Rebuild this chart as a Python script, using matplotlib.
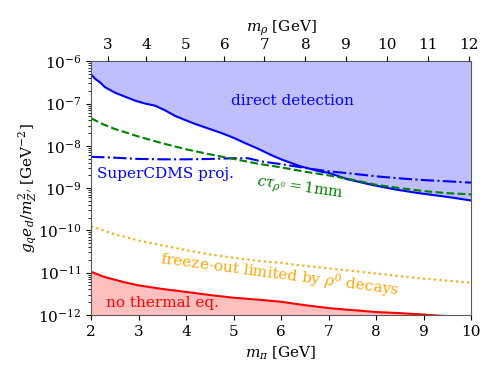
import matplotlib
matplotlib.use("Agg")
import matplotlib.pyplot as plt

plt.rcParams['font.family'] = 'serif'
plt.rcParams['font.serif'] = ['DejaVu Serif']
plt.rcParams['mathtext.fontset'] = 'dejavuserif'
plt.rcParams['font.size'] = 11

# direct detection bound (solid blue)
m_dd = [2.0, 2.08, 2.19, 2.29, 2.5, 2.72, 2.93, 3.14, 3.35, 3.56, 3.77, 4.0, 4.19, 4.5, 4.75, 5.0,
        5.25, 5.5, 5.8, 6.0, 6.4, 6.8, 7.0, 7.4, 7.9, 8.4, 8.9, 9.5, 10.0]
y_dd = [4.9e-7, 3.9e-7, 3.16e-7, 2.45e-7, 1.82e-7, 1.45e-7, 1.17e-7, 1.0e-7, 8.9e-8, 6.9e-8, 5.1e-8,
        4.0e-8, 3.3e-8, 2.5e-8, 2.0e-8, 1.55e-8, 1.15e-8, 8.7e-9, 6.0e-9, 4.8e-9, 3.3e-9, 2.5e-9,
        2.3e-9, 1.62e-9, 1.2e-9, 9.3e-10, 7.6e-10, 6.2e-10, 5.1e-10]

# SuperCDMS projection (dash-dot blue)
m_cdms = [2.0, 2.5, 3.0, 3.5, 4.0, 4.5, 5.0, 5.3, 5.6, 6.0, 6.5, 7.0, 7.5, 8.0, 8.5, 9.0, 9.5, 10.0]
y_cdms = [5.5e-9, 5.25e-9, 4.9e-9, 4.8e-9, 4.8e-9, 4.9e-9, 5.1e-9, 5.1e-9, 4.25e-9, 3.7e-9, 3.0e-9,
          2.5e-9, 2.2e-9, 1.9e-9, 1.7e-9, 1.55e-9, 1.45e-9, 1.35e-9]

# c tau = 1mm (dashed green)
m_ctau = [2.0, 2.25, 2.5, 2.75, 3.0, 3.5, 4.0, 4.5, 5.0, 5.5, 6.0, 6.5, 7.0, 7.5, 8.0, 8.5, 9.0, 9.5, 10.0]
y_ctau = [4.47e-8, 3.24e-8, 2.51e-8, 2.04e-8, 1.66e-8, 1.15e-8, 8.3e-9, 6.3e-9, 4.9e-9, 3.8e-9, 3.1e-9,
          2.45e-9, 2.0e-9, 1.58e-9, 1.2e-9, 1.0e-9, 8.5e-10, 7.6e-10, 7.1e-10]

# freeze-out limited (dotted orange)
m_fo = [2.0, 2.25, 2.5, 2.75, 3.0, 3.5, 4.0, 4.5, 5.0, 5.5, 6.0, 6.5, 7.0, 7.5, 8.0, 8.5, 9.0, 9.5, 10.0]
y_fo = [1.26e-10, 1.0e-10, 8.1e-11, 6.8e-11, 5.75e-11, 4.4e-11, 3.4e-11, 2.7e-11, 2.25e-11, 1.9e-11,
        1.7e-11, 1.45e-11, 1.26e-11, 1.1e-11, 9.5e-12, 8.3e-12, 7.2e-12, 6.5e-12, 5.75e-12]

# no thermal equilibrium (solid red)
m_th = [2.0, 2.25, 2.5, 2.75, 3.0, 3.5, 4.0, 4.5, 5.0, 5.5, 6.0, 6.5, 7.0, 7.5, 8.0, 8.5, 9.0, 9.5, 10.0]
y_th = [1.05e-11, 8.1e-12, 6.8e-12, 5.75e-12, 5.0e-12, 4.1e-12, 3.5e-12, 2.95e-12, 2.55e-12, 2.3e-12,
        2.05e-12, 1.7e-12, 1.45e-12, 1.3e-12, 1.17e-12, 1.1e-12, 1.02e-12, 0.93e-12, 0.8e-12]

# top axis: m_rho ticks placed at the matching m_pi values
rho_ticks = [3, 4, 5, 6, 7, 8, 9, 10, 11, 12]
rho_at_mpi = [2.351, 3.164, 3.979, 4.806, 5.648, 6.512, 7.368, 8.232, 9.088, 9.951]

fig, ax = plt.subplots(figsize=(4.98, 3.74), dpi=100)
fig.subplots_adjust(left=0.183, right=0.946, bottom=0.158, top=0.836)

ax.fill_between(m_dd, y_dd, 1e-6, color='blue', alpha=0.25, lw=0)
ax.plot(m_dd, y_dd, color='blue', lw=1.5)
ax.plot(m_cdms, y_cdms, color='blue', ls='-.', lw=1.5)
ax.plot(m_ctau, y_ctau, color='green', ls='--', lw=1.5)
ax.plot(m_fo, y_fo, color='orange', ls=':', lw=1.5)
ax.fill_between(m_th, 1e-13, y_th, color='red', alpha=0.25, lw=0)
ax.plot(m_th, y_th, color='red', lw=1.5)

ax.set_yscale('log')
ax.set_xlim(2, 10)
ax.set_ylim(1e-12, 1e-6)
ax.set_xlabel(r'$m_\pi$ [GeV]')
ax.set_ylabel(r"$g_q e_d / m_{Z'}^2$ [GeV$^{-2}$]", labelpad=-1)
for s in ax.spines.values():
    s.set_color('0.35')

ax.text(0.53, 0.845, 'direct detection', transform=ax.transAxes, color='blue', ha='center', va='center')
ax.text(0.015, 0.555, 'SuperCDMS proj.', transform=ax.transAxes, color='blue', ha='left', va='center')
ax.text(0.55, 0.5, r'$c\tau_{\rho^0} = 1$mm', transform=ax.transAxes, color='green',
        ha='center', va='center', rotation=-8)
ax.text(0.497, 0.16, r'freeze-out limited by $\rho^0$ decays', transform=ax.transAxes, color='orange',
        ha='center', va='center', rotation=-7.5)
ax.text(0.04, 0.045, 'no thermal eq.', transform=ax.transAxes, color='red', ha='left', va='center')

ax2 = ax.twiny()
ax2.set_xlim(2, 10)
ax2.set_xticks(rho_at_mpi)
ax2.set_xticklabels([str(t) for t in rho_ticks])
ax2.set_xlabel(r'$m_\rho$ [GeV]')
for s in ax2.spines.values():
    s.set_visible(False)

fig.savefig('out.png', dpi=100)
